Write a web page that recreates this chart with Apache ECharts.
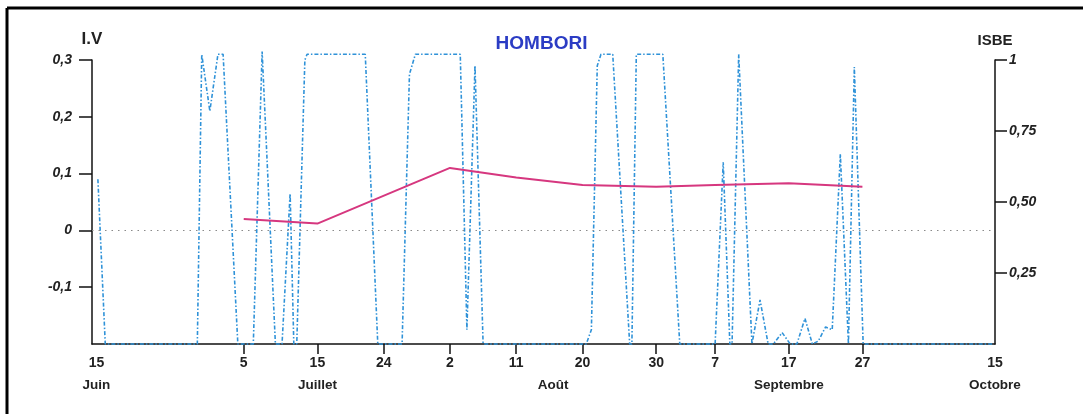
<!DOCTYPE html>
<html>
<head>
<meta charset="utf-8">
<script src="https://cdn.jsdelivr.net/npm/echarts@6/dist/echarts.min.js"></script>
<style>
html,body{margin:0;padding:0;background:#fff;}
#chart{width:1083px;height:414px;}
</style>
</head>
<body>
<div id="chart"></div>
<script>
// x axis: days counted from 15 June
const xTickDays = [0, 20, 30, 39, 48, 57, 66, 76, 84, 94, 104, 122];
const xTickLabels = ['15', '5', '15', '24', '2', '11', '20', '30', '7', '17', '27', '15'];
const monthDays = [0, 30, 62, 94, 122];
const monthNames = ['Juin', 'Juillet', 'Août', 'Septembre', 'Octobre'];

// left axis (I.V) and right axis (ISBE) ticks
const ivTicks = [-0.1, 0, 0.1, 0.2, 0.3];
const isbeTicks = [0.25, 0.5, 0.75, 1];

// I.V series (pink)
const ivDays   = [20, 30, 48, 57, 66, 76, 84, 94, 104];
const ivValues = [0.02, 0.012, 0.11, 0.093, 0.08, 0.077, 0.08, 0.083, 0.077];

// ISBE series (blue dash-dot)
const isbeDays = [0.2, 1.2, 13.7, 14.3, 15.4, 16.5, 17.2, 19.2, 21.3, 22.5, 24.3, 25.2, 26.3, 26.8, 27.2, 28.3, 28.6,
  36.5, 38.2, 41.5, 42.5, 43.3, 49.4, 50.3, 51.4, 52.5, 66.5, 67.2, 68.0, 68.5, 70.1, 72.4, 72.7, 73.3, 76.9, 79.2,
  84.0, 85.1, 86.0, 86.3, 87.2, 89.0, 90.1, 91.2, 91.9, 93.1, 94.2, 95.1, 96.2, 97.2, 98.0, 99.0, 99.9, 101.0,
  102.1, 102.9, 104.1, 121.8];
const isbeValues = [0.58, 0, 0, 1.02, 0.82, 1.02, 1.02, 0, 0, 1.03, 0, 0, 0.53, 0, 0, 1.0, 1.02,
  1.02, 0, 0, 0.95, 1.02, 1.02, 0.05, 0.98, 0, 0, 0.05, 0.98, 1.02, 1.02, 0, 0, 1.02, 1.02, 0,
  0, 0.64, 0, 0, 1.02, 0, 0.155, 0, 0, 0.04, 0, 0, 0.09, 0, 0.01, 0.06, 0.05, 0.67,
  0, 0.975, 0, 0];

const FONT = 'Liberation Sans';
const chart = echarts.init(document.getElementById('chart'), null, {renderer: 'canvas'});

function lookup(keys, labels, v) {
  for (let i = 0; i < keys.length; i++) if (Math.abs(keys[i] - v) < 1e-6) return labels[i];
  return '';
}

const option = {
  animation: false,
  backgroundColor: '#fff',
  title: {
    text: 'HOMBORI', left: 'center', top: 29,
    textStyle: {fontFamily: FONT, fontSize: 19, fontWeight: 'bold', color: '#2b3cc4'}
  },
  grid: {left: 92, right: 88, top: 60, bottom: 70},
  xAxis: [{
    type: 'value', min: -0.6, max: 122, position: 'bottom',
    axisLine: {show: true, onZero: false, lineStyle: {color: '#111', width: 1.5}},
    axisTick: {show: true, customValues: xTickDays.slice(1, -1), length: 10, lineStyle: {color: '#111', width: 1.5}},
    axisLabel: {customValues: xTickDays, margin: 12, fontFamily: FONT, fontSize: 14, fontWeight: 'bold', color: '#222',
      formatter: v => lookup(xTickDays, xTickLabels, v)},
    splitLine: {show: false}
  }, {
    type: 'value', min: -0.6, max: 122, position: 'bottom',
    axisLine: {show: false, onZero: false}, axisTick: {show: false}, splitLine: {show: false},
    axisLabel: {customValues: monthDays, margin: 34, fontFamily: FONT, fontSize: 13.5, fontWeight: 'bold', color: '#222',
      formatter: v => lookup(monthDays, monthNames, v)}
  }],
  yAxis: [{
    type: 'value', position: 'left', min: -0.2, max: 0.3, interval: 0.1,
    name: 'I.V', nameLocation: 'end', nameGap: 12,
    nameTextStyle: {fontFamily: FONT, fontSize: 17, fontWeight: 'bold', color: '#222', align: 'center'},
    axisLine: {show: true, onZero: false, lineStyle: {color: '#111', width: 1.5}},
    axisTick: {show: true, customValues: ivTicks, length: 13, lineStyle: {color: '#111', width: 1.5}},
    axisLabel: {customValues: ivTicks, margin: 20, fontFamily: FONT, fontSize: 14, fontWeight: 'bold', fontStyle: 'italic', color: '#222',
      formatter: v => Math.abs(v) < 1e-9 ? '0' : v.toFixed(1).replace('.', ',')},
    splitLine: {show: false}
  }, {
    type: 'value', position: 'right', min: 0, max: 1, interval: 0.25,
    name: 'ISBE', nameLocation: 'end', nameGap: 12,
    nameTextStyle: {fontFamily: FONT, fontSize: 15, fontWeight: 'bold', color: '#222', align: 'center'},
    axisLine: {show: true, onZero: false, lineStyle: {color: '#111', width: 1.5}},
    axisTick: {show: true, customValues: isbeTicks, length: 12, lineStyle: {color: '#111', width: 1.5}},
    axisLabel: {customValues: isbeTicks, margin: 14, fontFamily: FONT, fontSize: 14, fontWeight: 'bold', fontStyle: 'italic', color: '#222',
      formatter: v => v === 1 ? '1' : v.toFixed(2).replace('.', ',')},
    splitLine: {show: false}
  }],
  graphic: [
    {type: 'line', shape: {x1: 7, y1: 8, x2: 1083, y2: 8}, style: {stroke: '#000', lineWidth: 3}},
    {type: 'line', shape: {x1: 7, y1: 8, x2: 7, y2: 414}, style: {stroke: '#000', lineWidth: 3}}
  ],
  series: [{
    name: 'ISBE', type: 'line', xAxisIndex: 0, yAxisIndex: 1, clip: false,
    data: isbeDays.map((d, i) => [d, isbeValues[i]]),
    showSymbol: false, symbol: 'none', z: 3,
    lineStyle: {color: '#2f92d8', width: 1.6, type: [4, 2, 1.5, 2]}
  }, {
    name: 'I.V', type: 'line', xAxisIndex: 0, yAxisIndex: 0,
    data: ivDays.map((d, i) => [d, ivValues[i]]),
    showSymbol: false, symbol: 'none', z: 4,
    lineStyle: {color: '#d6377f', width: 2},
    markLine: {
      silent: true, symbol: 'none', label: {show: false},
      lineStyle: {color: '#8a8a8a', type: [1.5, 5], width: 1.2},
      data: [{yAxis: 0}]
    }
  }]
};
chart.setOption(option);
</script>
</body>
</html>
